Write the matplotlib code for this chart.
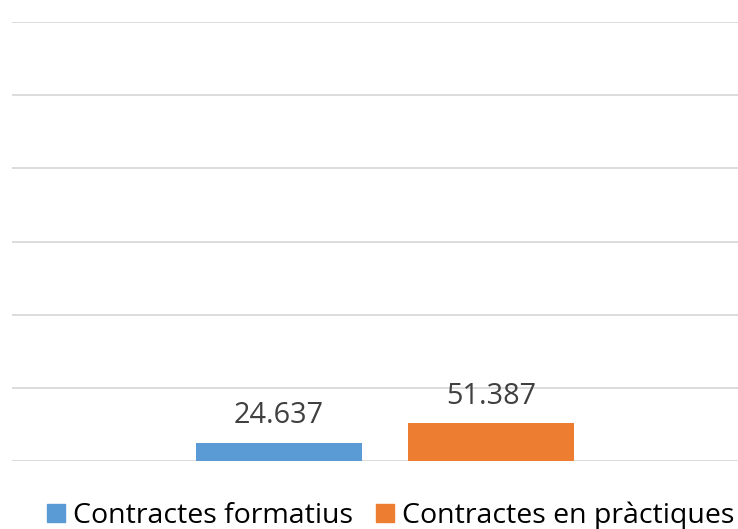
import matplotlib.pyplot as plt
from matplotlib.patches import Patch

series = ["Contractes formatius", "Contractes en pràctiques"]
values = [24637, 51387]
labels = ["24.637", "51.387"]
colors = ["#5B9BD5", "#ED7D31"]

W, H = 738, 529
fig = plt.figure(figsize=(W / 100, H / 100), dpi=100)
ax = fig.add_axes([12 / W, 68 / H, (738 - 12) / W, (461 - 22) / H])

positions = [0.368, 0.660]
width = 0.229
bars = ax.bar(positions, values, width=width, color=colors, zorder=3)
ax.set_xlim(0, 1)
ax.set_ylim(0, 600000)
ax.set_yticks(range(0, 600001, 100000))
ax.yaxis.grid(True, color="#D9D9D9", linewidth=1.3, zorder=0)
ax.tick_params(left=False, bottom=False, labelleft=False, labelbottom=False)
for s in ax.spines.values():
    s.set_visible(False)

for b, lab in zip(bars, labels):
    ax.annotate(lab, (b.get_x() + b.get_width() / 2, b.get_height()),
                xytext=(0, 9), textcoords="offset points",
                ha="center", va="bottom", fontsize=20.8, color="#404040",
                family="Open Sans")

handles = [Patch(color=c) for c in colors]
fig.legend(handles, series, loc="center", bbox_to_anchor=(391 / W, 1 - 516 / H),
           ncol=2, frameon=False, prop={"family": "Open Sans", "size": 20.5},
           handlelength=0.62, handleheight=0.62, handletextpad=0.3,
           columnspacing=0.8, labelcolor="#000000")

fig.savefig("out.png", dpi=100)
